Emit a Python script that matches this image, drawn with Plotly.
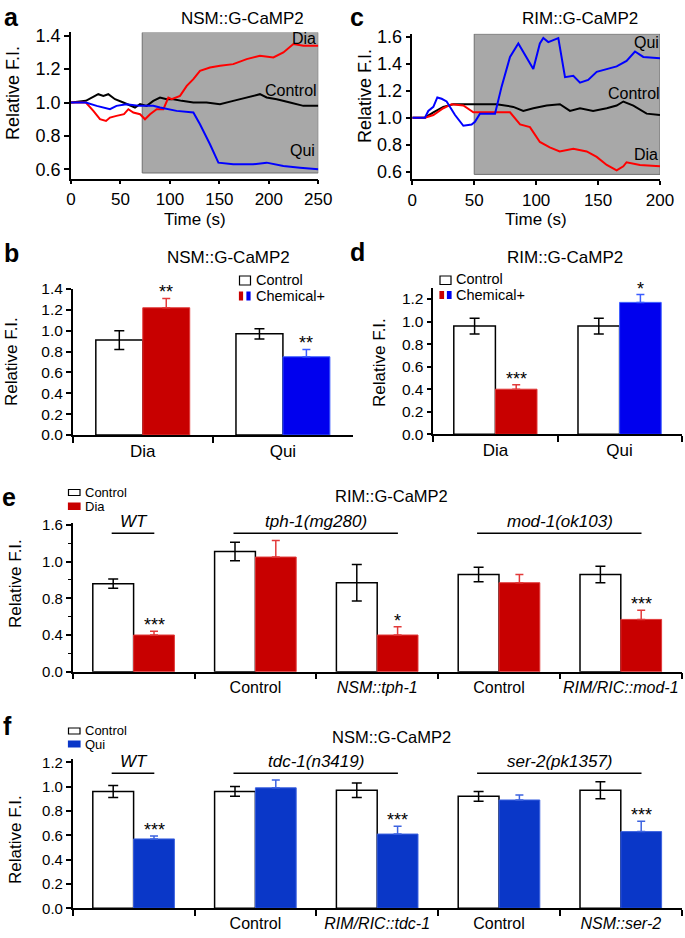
import plotly.graph_objects as go

W, H = 685, 938
FONT = "Liberation Sans, Arial, Helvetica, sans-serif"

# ---------------- Data ----------------
# Panel a (NSM::G-CaMP2 traces)
a_t_ctrl = [0, 15, 27.6, 32.7, 37.7, 44.5, 52.9, 59.7, 64.7, 69.8, 76.5, 83.2, 90, 96.7, 103.5, 112, 123.7, 137, 150.6, 164, 177.6, 191, 197.8, 208, 221.4, 234.9, 250]
a_v_ctrl = [1.0, 1.01, 1.05, 1.04, 1.05, 1.02, 1.0, 0.98, 0.97, 0.99, 0.98, 1.01, 1.03, 1.02, 1.02, 1.01, 1.0, 1.0, 0.99, 1.01, 1.03, 1.05, 1.03, 1.02, 1.0, 0.98, 0.98]
a_t_dia = [0, 15, 22.6, 29.3, 35.4, 39.4, 46, 53.6, 58, 63, 69.8, 74.8, 79.9, 86.6, 93.4, 98.4, 101.8, 110.2, 117, 123.7, 130.4, 140.5, 150.7, 164, 177.6, 191, 204.6, 214.7, 224.8, 235, 250]
a_v_dia = [1.0, 1.0, 0.95, 0.9, 0.89, 0.91, 0.92, 0.93, 0.96, 0.94, 0.93, 0.9, 0.93, 0.96, 0.96, 1.03, 1.02, 1.04, 1.1, 1.14, 1.19, 1.21, 1.22, 1.23, 1.26, 1.28, 1.27, 1.3, 1.35, 1.34, 1.34]
a_t_qui = [0, 15, 26, 39.4, 46, 56, 69.8, 83.2, 90, 100, 106.8, 123.7, 130.4, 140.5, 149, 164, 184, 197.8, 214.7, 231.5, 250]
a_v_qui = [1.0, 1.0, 0.98, 0.96, 0.98, 0.99, 0.98, 0.98, 0.97, 0.96, 0.95, 0.94, 0.87, 0.75, 0.64, 0.63, 0.63, 0.64, 0.62, 0.61, 0.6]

# Panel c (RIM::G-CaMP2 traces)
c_t_ctrl = [0, 10.2, 17, 25, 33, 43.9, 54.6, 68, 81.6, 89.6, 97.7, 108.5, 119.2, 127.3, 135.4, 146, 157, 165, 170.4, 178.5, 189.2, 200]
c_v_ctrl = [1.0, 1.0, 1.04, 1.08, 1.1, 1.1, 1.1, 1.1, 1.08, 1.05, 1.07, 1.09, 1.1, 1.05, 1.07, 1.05, 1.07, 1.09, 1.12, 1.09, 1.03, 1.02]
c_t_dia = [0, 10.2, 17, 25, 31.8, 41.2, 49.3, 57.3, 68, 78.9, 87, 95, 103, 111, 119, 130, 140.8, 148.9, 157, 165, 170.4, 173, 183.8, 200]
c_v_dia = [1.0, 1.0, 1.02, 1.07, 1.1, 1.09, 1.04, 1.04, 1.04, 1.04, 0.95, 0.93, 0.82, 0.78, 0.75, 0.77, 0.75, 0.71, 0.65, 0.61, 0.64, 0.67, 0.65, 0.64]
c_t_qui = [0, 10.2, 12.9, 17, 20.2, 23.7, 27.7, 34.5, 41.2, 47.9, 50.6, 54.6, 61.4, 66.8, 72.1, 78.9, 85.6, 92.3, 97.7, 103, 105.8, 109.8, 117.9, 123.3, 130, 135.4, 142, 148.9, 157, 165, 173, 179.8, 186.5, 200]
c_v_qui = [1.0, 1.0, 1.05, 1.08, 1.15, 1.14, 1.12, 1.02, 0.94, 0.95, 0.97, 1.03, 1.03, 1.03, 1.23, 1.45, 1.55, 1.45, 1.36, 1.55, 1.59, 1.56, 1.59, 1.3, 1.31, 1.26, 1.28, 1.34, 1.36, 1.38, 1.42, 1.49, 1.45, 1.44]

# Panel b
b_cats = ["Dia", "Qui"]
b_ctrl = [0.91, 0.97]
b_ctrl_err = [0.09, 0.05]
b_chem = [1.22, 0.75]
b_chem_err = [0.09, 0.07]
b_sig = ["**", "**"]

# Panel d
d_cats = ["Dia", "Qui"]
d_ctrl = [0.96, 0.96]
d_ctrl_err = [0.07, 0.07]
d_chem = [0.40, 1.17]
d_chem_err = [0.04, 0.07]
d_sig = ["***", "*"]

# Panel e
e_cats = ["WT", "tph-1 Control", "NSM::tph-1", "mod-1 Control", "RIM/RIC::mod-1"]
e_ticktext = ["", "Control", "<i>NSM::tph-1</i>", "Control", "<i>RIM/RIC::mod-1</i>"]
e_ctrl = [0.96, 1.31, 0.97, 1.06, 1.06]
e_ctrl_err = [0.05, 0.10, 0.20, 0.08, 0.09]
e_dia = [0.40, 1.25, 0.40, 0.97, 0.57]
e_dia_err = [0.04, 0.18, 0.09, 0.09, 0.10]
e_sig = ["***", "", "*", "", "***"]
e_tickvals = [0.0, 0.4, 0.8, 1.2, 1.6]
e_ticklabels = ["0.0", "0.4", "0.8", "1.0", "1.6"]
e_genotypes = [("WT", 0, 0), ("tph-1(mg280)", 1, 2), ("mod-1(ok103)", 3, 4)]

# Panel f
f_cats = ["WT", "tdc-1 Control", "RIM/RIC::tdc-1", "ser-2 Control", "NSM::ser-2"]
f_ticktext = ["", "Control", "<i>RIM/RIC::tdc-1</i>", "Control", "<i>NSM::ser-2</i>"]
f_ctrl = [0.96, 0.96, 0.97, 0.92, 0.97]
f_ctrl_err = [0.05, 0.04, 0.06, 0.04, 0.07]
f_qui = [0.57, 0.99, 0.61, 0.89, 0.63]
f_qui_err = [0.025, 0.065, 0.065, 0.04, 0.085]
f_sig = ["***", "", "***", "", "***"]
f_genotypes = [("WT", 0, 0), ("tdc-1(n3419)", 1, 2), ("ser-2(pk1357)", 3, 4)]

# ---------------- Styles ----------------
RED = "#c80000"
RED_L = "#e23a3a"
BLUE = "#0000ee"
BLUE_L = "#3b5cff"
BLUE_F = "#0a37c8"
BLUE_FL = "#3d63e0"


def xd(a, b):
    return [a / W, b / W]


def yd(top, bottom):
    return [1 - bottom / H, 1 - top / H]


def px(x):
    return x / W


def py(y):
    return 1 - y / H


fig = go.Figure()

# ---- line panels ----
for xs, ys, col, axp in [
    (a_t_ctrl, a_v_ctrl, "black", ("x", "y")),
    (a_t_dia, a_v_dia, "#ff0000", ("x", "y")),
    (a_t_qui, a_v_qui, "#0000ff", ("x", "y")),
    (c_t_ctrl, c_v_ctrl, "black", ("x2", "y2")),
    (c_t_dia, c_v_dia, "#ff0000", ("x2", "y2")),
    (c_t_qui, c_v_qui, "#0000ff", ("x2", "y2")),
]:
    fig.add_trace(go.Scatter(x=xs, y=ys, mode="lines", line=dict(color=col, width=2),
                             xaxis=axp[0], yaxis=axp[1], showlegend=False, hoverinfo="skip"))


def ctrl_bar(cats, vals, errs, xa, ya):
    return go.Bar(x=cats, y=vals, xaxis=xa, yaxis=ya, offsetgroup="ctrl",
                  marker=dict(color="white", line=dict(color="black", width=1.5)),
                  error_y=dict(type="data", array=errs, color="black", thickness=1.5, width=5),
                  showlegend=False, name="Control")


def chem_bar(cats, vals, errs, xa, ya, col, lcol):
    return go.Bar(x=cats, y=vals, xaxis=xa, yaxis=ya, offsetgroup="chem",
                  marker=dict(color=col, line=dict(color=lcol, width=1)),
                  error_y=dict(type="data", symmetric=False, array=errs, arrayminus=[0] * len(errs),
                               color=lcol, thickness=1.5, width=4),
                  showlegend=False)


# panel b
fig.add_trace(ctrl_bar(b_cats, b_ctrl, b_ctrl_err, "x3", "y3"))
fig.add_trace(chem_bar(b_cats[:1], b_chem[:1], b_chem_err[:1], "x3", "y3", RED, RED_L))
fig.add_trace(chem_bar(b_cats[1:], b_chem[1:], b_chem_err[1:], "x3", "y3", BLUE, BLUE_L))
# panel d
fig.add_trace(ctrl_bar(d_cats, d_ctrl, d_ctrl_err, "x4", "y4"))
fig.add_trace(chem_bar(d_cats[:1], d_chem[:1], d_chem_err[:1], "x4", "y4", RED, RED_L))
fig.add_trace(chem_bar(d_cats[1:], d_chem[1:], d_chem_err[1:], "x4", "y4", BLUE, BLUE_L))
# panel e
fig.add_trace(ctrl_bar(e_cats, e_ctrl, e_ctrl_err, "x5", "y5"))
fig.add_trace(chem_bar(e_cats, e_dia, e_dia_err, "x5", "y5", RED, RED_L))
# panel f
fig.add_trace(ctrl_bar(f_cats, f_ctrl, f_ctrl_err, "x6", "y6"))
fig.add_trace(chem_bar(f_cats, f_qui, f_qui_err, "x6", "y6", BLUE_F, BLUE_FL))

# ---------------- Axes ----------------
base = dict(showline=True, linecolor="black", linewidth=1.5, ticks="outside", tickcolor="black",
            tickwidth=1.5, showgrid=False, zeroline=False, automargin=False, tickangle=0,
            tickfont=dict(family=FONT, color="black"))


def ax(**kw):
    d = dict(base)
    d.update(kw)
    return d


layout = dict(
    width=W, height=H, margin=dict(l=0, r=0, t=0, b=0, autoexpand=False),
    paper_bgcolor="white", plot_bgcolor="rgba(0,0,0,0)",
    barmode="group", bargap=0.33, bargroupgap=0,
    font=dict(family=FONT, color="black"),
    showlegend=False,
    xaxis=ax(domain=xd(71, 318.3), range=[0, 250], tickvals=[0, 50, 100, 150, 200, 250], ticklen=4,
             tickfont=dict(family=FONT, size=17, color="black"), anchor="y"),
    yaxis=ax(domain=yd(32.4, 178.5), range=[0.545, 1.42], tickvals=[0.6, 0.8, 1.0, 1.2, 1.4],
             tickformat=".1f", ticklen=5, tickfont=dict(family=FONT, size=18, color="black"), anchor="x"),
    xaxis2=ax(domain=xd(412.3, 660), range=[0, 200], tickvals=[0, 50, 100, 150, 200], ticklen=4,
              tickfont=dict(family=FONT, size=17, color="black"), anchor="y2"),
    yaxis2=ax(domain=yd(33.7, 179.4), range=[0.543, 1.622], tickvals=[0.6, 0.8, 1.0, 1.2, 1.4, 1.6],
              tickformat=".1f", ticklen=5, tickfont=dict(family=FONT, size=18, color="black"), anchor="x2"),
    xaxis3=ax(domain=xd(72.7, 353), type="category", categoryorder="array", categoryarray=b_cats,
              range=[-0.5, 1.5], tickson="boundaries", ticklen=6,
              tickfont=dict(family=FONT, size=17, color="black"), anchor="y3"),
    yaxis3=ax(domain=yd(289, 435), range=[0, 1.4], tickvals=[0, 0.2, 0.4, 0.6, 0.8, 1.0, 1.2, 1.4],
              tickformat=".1f", ticklen=5, tickfont=dict(family=FONT, size=15.5, color="black"), anchor="x3"),
    xaxis4=ax(domain=xd(433.3, 681.7), type="category", categoryorder="array", categoryarray=d_cats,
              range=[-0.5, 1.5], tickson="boundaries", ticklen=6,
              tickfont=dict(family=FONT, size=17, color="black"), anchor="y4"),
    yaxis4=ax(domain=yd(288.3, 434.3), range=[0, 1.295], tickvals=[0, 0.2, 0.4, 0.6, 0.8, 1.0, 1.2],
              tickformat=".1f", ticklen=5, tickfont=dict(family=FONT, size=15.5, color="black"), anchor="x4"),
    xaxis5=ax(domain=xd(72.7, 681.7), type="category", categoryorder="array", categoryarray=e_cats,
              range=[-0.5, 4.5], tickson="boundaries", ticklen=6, tickmode="array",
              tickvals=e_cats, ticktext=e_ticktext,
              tickfont=dict(family=FONT, size=16, color="black"), anchor="y5"),
    yaxis5=ax(domain=yd(523.1, 671.7), range=[0, 1.62], tickvals=e_tickvals, ticktext=e_ticklabels,
              ticklen=5, minor=dict(dtick=0.2, tick0=0, ticks="outside", ticklen=3, tickcolor="black", tickwidth=1),
              tickfont=dict(family=FONT, size=15, color="black"), anchor="x5"),
    xaxis6=ax(domain=xd(72.7, 681.7), type="category", categoryorder="array", categoryarray=f_cats,
              range=[-0.5, 4.5], tickson="boundaries", ticklen=6, tickmode="array",
              tickvals=f_cats, ticktext=f_ticktext,
              tickfont=dict(family=FONT, size=16, color="black"), anchor="y6"),
    yaxis6=ax(domain=yd(758.6, 908.3), range=[0, 1.23], tickvals=[0, 0.2, 0.4, 0.6, 0.8, 1.0, 1.2],
              tickformat=".1f", ticklen=5, tickfont=dict(family=FONT, size=15, color="black"), anchor="x6"),
)
fig.update_layout(**layout)

shapes = []
annotations = []


def text(t, x, y, size, bold=False, italic=False, xanchor="center", yanchor="middle", angle=0, color="black"):
    if bold:
        t = "<b>" + t + "</b>"
    if italic:
        t = "<i>" + t + "</i>"
    annotations.append(dict(text=t, x=px(x), y=py(y), xref="paper", yref="paper", showarrow=False,
                            xanchor=xanchor, yanchor=yanchor, textangle=angle, borderpad=0,
                            font=dict(family=FONT, size=size, color=color)))


# shaded stimulus windows
shapes.append(dict(type="rect", xref="x", yref="y", x0=72, x1=250, y0=0.578, y1=1.42, layer="below",
                   fillcolor="#a8a8a8", line=dict(color="#707070", width=1)))
shapes.append(dict(type="rect", xref="x2", yref="y2", x0=50, x1=200, y0=0.58, y1=1.62, layer="below",
                   fillcolor="#a8a8a8", line=dict(color="#707070", width=1)))

# trace labels in a & c
for t, x, y, xr, yr in [("Dia", 236, 1.385, "x", "y"), ("Control", 222, 1.075, "x", "y"), ("Qui", 234, 0.71, "x", "y"),
                        ("Qui", 189, 1.555, "x2", "y2"), ("Control", 179, 1.18, "x2", "y2"), ("Dia", 189, 0.73, "x2", "y2")]:
    annotations.append(dict(text=t, x=x, y=y, xref=xr, yref=yr, showarrow=False,
                            font=dict(family=FONT, size=16, color="black")))

# panel letters
for t, x, y in [("a", 11, 17), ("c", 357, 17), ("b", 11, 253), ("d", 357, 252), ("e", 9, 497), ("f", 7, 726)]:
    text(t, x, y, 25, bold=True)

# titles
text("NSM::G-CaMP2", 242, 18, 17)
text("RIM::G-CaMP2", 580, 18, 17)
text("NSM::G-CaMP2", 228, 257, 17)
text("RIM::G-CaMP2", 565, 257, 17)
text("RIM::G-CaMP2", 392, 496, 16.5)
text("NSM::G-CaMP2", 392, 737, 16.5)

# axis titles
text("Time (s)", 195, 219, 17)
text("Time (s)", 536, 219, 17)
for x, y, s in [(13, 93, 18), (365, 96, 18), (11, 362, 17), (380, 363, 17), (15, 584, 17), (15, 840, 17)]:
    text("Relative F.I.", x, y, s, angle=-90)


# legends
def legend_box(x0, x1, y0, y1, fill, line):
    shapes.append(dict(type="rect", xref="paper", yref="paper", x0=px(x0), x1=px(x1), y0=py(y1), y1=py(y0),
                       fillcolor=fill, line=dict(color=line, width=1.2)))


# b
legend_box(239.5, 250.5, 276, 285, "white", "black")
text("Control", 255, 280, 14.5, xanchor="left")
legend_box(239.5, 242.5, 292, 300, RED, RED)
legend_box(247, 250, 292, 300, BLUE, BLUE)
text("Chemical+", 255, 296, 14.5, xanchor="left")
# d
legend_box(440, 451, 276, 284.5, "white", "black")
text("Control", 455, 279, 14.5, xanchor="left")
legend_box(440, 443.5, 291.5, 298.5, RED, RED)
legend_box(447.5, 451, 291.5, 298.5, BLUE, BLUE)
text("Chemical+", 455, 295, 14.5, xanchor="left")
# e
legend_box(68.5, 80, 489.5, 495.5, "white", "black")
text("Control", 84, 492, 13, xanchor="left")
legend_box(68.5, 80, 503, 509.5, RED, RED)
text("Dia", 84, 506, 13, xanchor="left")
# f
legend_box(68.5, 80, 728, 734, "white", "black")
text("Control", 84, 730.5, 13, xanchor="left")
legend_box(68.5, 80, 741, 747, BLUE_F, BLUE_F)
text("Qui", 84, 744.5, 13, xanchor="left")


# significance stars
def stars(sigs, vals, errs, xr, yr, off, size=18):
    for i, s in enumerate(sigs):
        if s:
            annotations.append(dict(text=s, x=i + off, y=vals[i] + errs[i], xref=xr, yref=yr, showarrow=False,
                                    yanchor="bottom", yshift=-6, font=dict(family=FONT, size=size, color="black")))


stars(b_sig, b_chem, b_chem_err, "x3", "y3", 0.1675)
stars(d_sig, d_chem, d_chem_err, "x4", "y4", 0.1675)
stars(e_sig, e_dia, e_dia_err, "x5", "y5", 0.1675)
stars(f_sig, f_qui, f_qui_err, "x6", "y6", 0.1675)


# genotype lines
def genotypes(groups, line_y, xr, yr):
    for name, i0, i1 in groups:
        shapes.append(dict(type="line", xref=xr, yref=yr, x0=i0 - 0.18, x1=i1 + 0.17, y0=line_y, y1=line_y,
                           line=dict(color="black", width=1.5)))
        annotations.append(dict(text="<i>" + name + "</i>", x=(i0 + i1) / 2, y=line_y, xref=xr, yref=yr,
                                showarrow=False, yanchor="bottom", yshift=0,
                                font=dict(family=FONT, size=17, color="black")))


genotypes(e_genotypes, 1.51, "x5", "y5")
genotypes(f_genotypes, 1.11, "x6", "y6")

fig.update_layout(shapes=shapes, annotations=annotations)
fig.write_html("out.html", config={"displayModeBar": False},
               post_script="document.body.style.margin='0px';document.body.style.overflow='hidden';")
